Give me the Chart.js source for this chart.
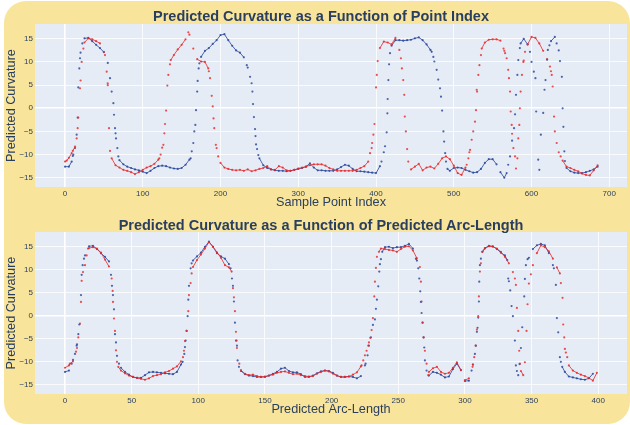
<!DOCTYPE html>
<html>
<head>
<meta charset="utf-8">
<title>Predicted Curvature</title>
<script src="https://cdn.jsdelivr.net/npm/chart.js@4.4.1/dist/chart.umd.min.js"></script>
<style>
  body { margin: 0; background: #fff; }
  #wrap { position: relative; width: 630px; height: 425px; overflow: hidden; }
  #paper { position: absolute; left: 4px; top: 1px; width: 626px; height: 423px; background: #f8e59b; border-radius: 22px; }
  canvas { position: absolute; left: 0; }
  #topChart { top: 0; }
  #bottomChart { top: 212px; }
  .title { position: absolute; left: 0; width: 642px; text-align: center; color: #2a3f5f;
           font: bold 14.5px "Liberation Sans", Arial, sans-serif; white-space: nowrap; }
</style>
</head>
<body>
<div id="wrap">
  <div id="paper"></div>
  <canvas id="topChart" width="630" height="212"></canvas>
  <canvas id="bottomChart" width="630" height="213"></canvas>
  <div class="title" style="top:8px">Predicted Curvature as a Function of Point Index</div>
  <div class="title" style="top:217px">Predicted Curvature as a Function of Predicted Arc-Length</div>
</div>
<script>
// tick labels
const indexTicks = [0, 100, 200, 300, 400, 500, 600, 700];
const arcTicks = [0, 50, 100, 150, 200, 250, 300, 350, 400];
const curvatureTicks = [-15, -10, -5, 0, 5, 10, 15];

// top plot: one value every 5 sample points (0..685)
const indexStep = 5;
const blueByIndex = [
  -12.6, -12.6, -10.3, -5.7, 12, 15.1, 15.2, 14.5, 13.7, 13,
  12.1, 9.8, 3.6, -5.4, -11.2, -12.1, -12.6, -12.9, -13.2, -13.4,
  -13.7, -14, -13.5, -12.9, -12.5, -12.4, -12.5, -12.8, -13, -13.1,
  -12.9, -12.2, -11.1, -7.5, 3.6, 11.1, 12.4, 13, 13.9, 14.7,
  15.8, 16, 14.7, 13.5, 12.5, 12, 11, 8.8, 5.4, -6,
  -10.8, -12.3, -12.9, -13.2, -13.4, -13.5, -13.5, -13.6, -13.5, -13.3,
  -13.1, -12.9, -12.6, -11.9, -12.8, -13.4, -13.4, -13.5, -13.5, -13.5,
  -13.2, -12.7, -12.2, -12.4, -13.1, -13.6, -13.6, -13.7, -13.8, -13.9,
  -14, -12.5, -9.5, 2, 13.5, 14.7, 14.7, 14.6, 14.7, 14.8,
  15.1, 15.3, 14.7, 13.8, 12.6, 10.1, 6.2, -0.5, -11.5, -13.5,
  -12.9, -12.8, -12.9, -13.3, -13.6, -13.9, -13.8, -13.1, -11.8, -11,
  -11, -12.1, -13.8, -15, -12.2, -7, 2.9, 13, 15, 13.8,
  10, 6.5, -13.3, -1, 10.5, 14.5, 15.4, 12.5, 0, -12.9,
  -13.6, -13.9, -14, -14, -13.8, -13.5, -13.2, -12.6
];
const redByIndex = [
  -11.5, -10.7, -9.2, -6.5, 6, 14.2, 15.1, 14.9, 14.5, 14,
  12.2, 5, -10.8, -12.3, -12.8, -13.3, -13.5, -13.8, -14.2, -13.8,
  -13.3, -12.8, -12.5, -12, -11.1, -8.5, -0.5, 9.5, 11.5, 12.7,
  13.7, 14.9, 15.9, 12.9, 10.6, 10.1, 10, 8, 0.4, -8.6,
  -11.8, -12.8, -13.1, -13.3, -13.4, -13.3, -13.5, -13.2, -13.6, -13.4,
  -13.1, -12.9, -12.5, -13.2, -13.3, -12.5, -12.8, -13.4, -13.5, -13.3,
  -13, -12.8, -12.6, -12.3, -12.1, -12.1, -12.1, -12.4, -12.9, -13.2,
  -13.5, -13.5, -13.5, -13.5, -13.5, -13.3, -12.9, -12.5, -11.5, -7.5,
  4.5, 13, 14.4, 14.2, 13.8, 15.2, 12.6, 6.1, -8.8, -13.2,
  -12.6, -12, -13.4, -12.8, -12.6, -13, -12, -10.8, -10.4, -11,
  -12.4, -14, -14.4, -12.8, -9.5, -5, 3.6, 11.5, 14.2, 14.8,
  14.9, 14.9, 14.6, 12.4, 8.3, -5.5, -13, 0, 10.3, 13.8,
  15.4, 15.2, 14, 12.4, 10.6, 8, -5, -9.5, -11.3, -12.6,
  -12.9, -13.3, -13.6, -14.1, -14.4, -14.5, -13.4, -12.3
];
// extra readings [index, curvature] where the curves are steep
const blueIndexExtra = [
  [8.6, -11.5], [10.7, -10], [12.9, -8.6], [16.3, -2], [17.1, 4.5], [18.4, 8.6], [19.3, 10.8], [22.3, 14],
  [57.9, 6.5], [62.2, 1.1], [63, -1.4], [64.3, -4.3], [65.6, -6.5], [67.3, -8.6], [68.6, -10.4],
  [161.6, -10.8], [163, -9.3], [166.3, -5], [167.6, -3.6], [168.5, -0.4], [170.6, 5.9], [171.9, 8.6], [172.8, 9.7],
  [233.8, 9.3], [238, 6.8], [241, 3.6], [241.8, 0.9], [243, -1.9], [244.4, -4.5], [245.7, -7.8], [247, -8.8], [248.6, -10.1],
  [407, -11.5], [411.6, -8.2], [413.7, -5.2], [414.6, -1.1], [415.9, 6.1], [416.8, 9.5], [418, 11.9],
  [471.6, 12.2], [473.7, 11.1], [478, 8.3], [482.3, 4.3], [483.6, 2.5], [486.7, -5], [487.6, -7.2], [488.9, -9.7], [491.9, -13.1],
  [568, -14], [572.4, -10.4], [577.5, -4.3], [578.8, -1.3], [581.8, 7.2], [583, 10.4], [586, 14],
  [598, 12.2], [603, 7.9], [606, -0.7], [608.6, -11.1], [612, -5.7], [616.7, 4], [618, 6.1], [621, 12.6], [623, 13.6],
  [632.3, 14], [636.6, 10.2], [639, 6.8], [641, -4], [642.2, -9.3], [643, -11.4]
];
const redIndexExtra = [
  [2.2, -11.3], [8.6, -9.7], [12.9, -8.3], [16.3, -4.3], [17.1, -2], [19.3, 4.3], [21.4, 10], [23.6, 12.9],
  [51.4, 11.5], [53.6, 7.9], [54.9, 5.4], [56.6, -4.3], [57.9, -9.2],
  [121.3, -10.8], [123, -10], [126.5, -7.9], [127.8, -5.4], [128.6, -3.4], [131.6, 4.9], [132.9, 7.2], [136, 10.4],
  [158.6, 16.4],
  [184.3, 8.6], [186.5, 6.5], [188.7, 2.7], [191, -2.2], [192, -4.3], [194, -7.9], [197, -10.4],
  [392.3, -9.7], [394.4, -8.6], [396.6, -5.7], [398, -3.4], [401, 7.2], [402.2, 10.2],
  [432, 10.8], [433.3, 8.6], [436.3, 2.9], [437, -1.8], [438.4, -5], [441.5, -11.5],
  [516.6, -12.2], [518.8, -10.8], [521, -9], [523, -6.8], [527.3, -2.9], [528.6, -0.4], [529.5, 4], [531.6, 7.2], [533, 9.3], [536, 12.9],
  [564, 12.9], [566, 11.9], [568, 10.8], [571, 6.5], [572.4, 3.6], [573.2, -0.7], [574.5, -3.6], [576.7, -8.6], [578.8, -10.4],
  [581.8, -10.8], [583, -6.5], [584.3, -3.6], [586, 3.6], [587.7, 7.2], [589.5, 10], [591.6, 12.2],
  [623.7, 9], [626, 7.2], [627.2, 4.7], [629, -1.8], [632.4, -7.5], [637.5, -10.4]
];

// bottom plot: one value every 3 units of arc-length
const arcStep = 3;
const blueByArc = [
  -12.2, -11.9, -9.6, -6.2, 4.5, 13.1, 15.1, 15.2, 14.5, 13.6,
  12.8, 11.8, 4.5, -8.7, -11.3, -12.2, -12.8, -13.3, -13.5, -13.5,
  -12.9, -12.3, -12.2, -12.3, -12.4, -12.5, -12.6, -12.7, -12.2, -10.6,
  -6.8, 6.5, 12, 12.9, 13.7, 15, 16.1, 15, 13.6, 12.9,
  12.4, 11.2, 6.5, -6.5, -12, -12.7, -13, -13.1, -13.3, -13.3,
  -13.3, -13, -12.6, -12.2, -11.5, -11.3, -12, -12.3, -12.3, -12.7,
  -13.3, -13.3, -13, -12.5, -12.1, -11.9, -12, -12.4, -13, -13.3,
  -13.3, -13.2, -13.3, -13.6, -13.1, -10.8, -6.5, -2, 3.5, 12.3,
  14.9, 15, 14.7, 14.9, 14.9, 15.2, 15.6, 14.6, 12, 3,
  -9.7, -13, -12.2, -12.4, -12.8, -13.4, -13.2, -11.6, -10.4, -11.8,
  -14.2, -14.1, -10.6, -3.5, 12.4, 14.7, 15.2, 15.1, 14.5, 13.7,
  13.1, 7.5, -0.1, -12, -7, 8, 12.6, 14.5, 15.3, 15.6,
  15.3, 13.6, 11, -0.5, -10, -12.2, -13.2, -13.4, -13.6, -13.8,
  -13.9, -13.6, -12.6
];
const redByArc = [
  -11.3, -10.8, -9.9, -7, 3, 11, 14.7, 14.9, 14.6, 13.7,
  12.2, 10.7, 3, -10, -11.9, -12.5, -13, -13.3, -13.5, -13.7,
  -13.9, -13.6, -13.1, -12.9, -12.7, -12.3, -12, -11.5, -11, -9.9,
  -5.5, 4.5, 10.6, 12.1, 13.3, 14.6, 16, 15, 13.8, 12.6,
  11, 10.5, 6, -7, -11.8, -12.6, -12.9, -12.8, -13.1, -13.3,
  -13.2, -13, -12.8, -12.4, -12.2, -12.1, -12.4, -12.7, -12.6, -12.9,
  -13.1, -13.2, -13.1, -12.6, -12.2, -11.9, -12.1, -12.6, -13, -13.3,
  -13.3, -13.2, -12.8, -12.3, -11, -8.6, -5.8, -0.5, 12.8, 14.6,
  14.5, 14.3, 14.2, 13.9, 14.5, 15, 15.1, 14.2, 12.5, 7.4,
  -7.6, -12.2, -11.4, -11.1, -12.2, -12.6, -12.4, -11.3, -10.1, -11.8,
  -14, -13.6, -10.6, -3, 11.4, 14.6, 15.1, 15, 14.6, 13.9,
  12.8, 11.4, 9.5, 1.7, -12, -10.1, 7, 11, 13.6, 15.3,
  14.9, 14, 12.4, 10.5, 7.1, -7.2, -10.8, -11.9, -12.4, -12.8,
  -13.1, -13.5, -14.1, -12.4
];
// extra readings [arc-length, curvature] where the curves are steep
const blueArcExtra = [
  [5, -10.4], [7.5, -8.3], [8.75, -6.5], [10, -4], [10.75, -1.9], [12.5, 8.9], [13.25, 11], [14.25, 12.4],
  [34.5, 8.9], [35.25, 6.5], [36.75, 1.4], [37.5, -4], [38.25, -5.8], [40.5, -10.4],
  [88.25, -10], [89.5, -8.3], [90.5, -5.4], [91.25, -3.3], [92, -0.1], [92.5, 3.5], [94.25, 10.3], [95, 11.4],
  [124.25, 10.3], [125.25, 8.1], [126.75, 3.1], [127.5, -1.5], [128.25, -5.4], [129.5, -9.7], [130.5, -11.1],
  [225.5, -10.4], [227, -8.6], [229.5, -4.7], [232.5, -0.8], [233.25, 1.5], [235, 6.4], [235.75, 9.6], [236.25, 11.2], [238, 13.9],
  [263.25, 12.4], [265, 10.3], [265.75, 8.1], [266.5, 5.3], [267.5, 0.6], [268.25, -1.5], [269, -4.7], [269.5, -6.9], [271.25, -11.9],
  [305, -11.9], [307.5, -8.3], [308.25, -6.5], [309.5, -2.6], [310, -0.4], [310.5, 3.1], [310.75, 7.4], [311.25, 11], [313, 13.9],
  [331.75, 12.1], [332.5, 8.1], [334, 5.5], [335, 2.1], [337.5, -5.4], [338.25, -10.8], [340, -12.9], [341, -10.5],
  [343, -2.5], [344.5, 4.2], [345.75, 11], [347, 12.3],
  [366.75, 10.3], [368.25, 6.7], [370, -3.6], [371.25, -9], [373, -11.1]
];
const redArcExtra = [
  [3.75, -10.4], [8.25, -7.8], [10, -4.7], [11.25, -1.7], [12.5, 7.6], [13.5, 9.5], [16.25, 13.1], [17.25, 14.6],
  [35, 8.1], [35.75, 5.4], [36.75, -0.6], [37.5, -3.3], [38.25, -7.5], [40, -11.1],
  [88.5, -9], [89.25, -7.6], [91.25, -3.3], [92.5, 1], [94.25, 7.1], [95, 9.2],
  [125, 9.6], [126.75, 4], [127.5, 1], [128.25, -3.5], [128.75, -5.4], [130.75, -10.4],
  [222.5, -10.8], [223.75, -9.7], [226.25, -7.6], [227.5, -6.5], [229, -4.8], [230, -3.1], [232, 4.2], [232.5, 7.4], [233.25, 10.4], [235.5, 13.9],
  [266.25, 10.6], [267.5, 3.1], [268.25, -1.5], [269, -4.7], [271.25, -10.4], [272.5, -12.9],
  [305.75, -11.1], [307, -9], [308, -6.5], [310, -0.1], [310.5, 4.2], [311.25, 9.6], [313.25, 13.9],
  [337.5, 8.1], [338.25, 6.7], [340, -3.3], [340.75, -7.6], [341.25, -10.4], [343.75, -12.9], [346.25, -3.3], [347, 2.5], [349.5, 9],
  [371.25, 9.2], [373.25, 3.9], [373.75, -1.9], [374.5, -4.7], [375.75, -8], [376.75, -9]
];

const FONT = '"Liberation Sans", Arial, sans-serif';
const INK = '#2a3f5f';
const RED = 'rgba(232, 38, 38, 0.8)';
const BLUE = 'rgba(36, 66, 152, 0.8)';

function toPoints(values, step, extra) {
  const pts = values.map((v, i) => ({ x: i * step, y: v }));
  extra.forEach(p => pts.push({ x: p[0], y: p[1] }));
  return pts.sort((a, b) => a.x - b.x);
}

const plotBg = {
  id: 'plotBg',
  beforeDraw(chart) {
    const { ctx, chartArea: a } = chart;
    ctx.save();
    ctx.fillStyle = '#e5ecf6';
    ctx.fillRect(a.left, a.top, a.right - a.left, a.bottom - a.top);
    ctx.restore();
  }
};

function gridWidth(c) {
  return c.tick && c.tick.value === 0 ? 1.6 : 0.8;
}

// the dense samples of the original read as a trace where the curve is flat,
// and as loose dots where it is steep
function series(points, color) {
  return {
    data: points,
    showLine: true,
    borderColor: color,
    borderWidth: 1,
    backgroundColor: color,
    pointRadius: 1.1,
    pointBorderWidth: 0,
    pointHoverRadius: 0,
    segment: {
      borderColor: c => {
        const dy = Math.abs(c.p1.y - c.p0.y);
        const dx = Math.abs(c.p1.x - c.p0.x);
        return dy > 8 || dy > 2 * dx ? 'rgba(0,0,0,0)' : color;
      }
    }
  };
}

function makeChart(id, opt) {
  const ctx = document.getElementById(id).getContext('2d');
  return new Chart(ctx, {
    type: 'scatter',
    data: {
      datasets: [series(opt.red, RED), series(opt.blue, BLUE)]
    },
    options: {
      responsive: false,
      animation: false,
      events: [],
      layout: { padding: { top: opt.top, right: 3, left: 0, bottom: 0 } },
      plugins: { legend: { display: false }, tooltip: { enabled: false } },
      scales: {
        x: {
          type: 'linear',
          min: opt.xMin,
          max: opt.xMax,
          afterBuildTicks: s => { s.ticks = opt.xTicks.map(v => ({ value: v })); },
          afterFit: s => { s.height = opt.xHeight; },
          grid: { color: '#ffffff', lineWidth: gridWidth, drawTicks: false },
          border: { display: false },
          ticks: { color: INK, font: { family: FONT, size: 8 }, padding: 2, maxRotation: 0, autoSkip: false },
          title: { display: true, text: opt.xTitle, color: INK, font: { family: FONT, size: 12.7 },
                   padding: { top: 0, bottom: opt.xTitlePad } }
        },
        y: {
          min: -17,
          max: 18.2,
          afterBuildTicks: s => { s.ticks = curvatureTicks.map(v => ({ value: v })); },
          afterFit: s => { s.width = 35; },
          grid: { color: '#ffffff', lineWidth: gridWidth, drawTicks: false },
          border: { display: false },
          ticks: {
            color: INK, font: { family: FONT, size: 8 }, padding: 2,
            callback: v => (v < 0 ? '\u2212' + Math.abs(v) : String(v))
          },
          title: { display: true, text: 'Predicted Curvature', color: INK, font: { family: FONT, size: 12.7 },
                   padding: { top: 4, bottom: 0 } }
        }
      }
    },
    plugins: [plotBg]
  });
}

makeChart('topChart', {
  red: toPoints(redByIndex, indexStep, redIndexExtra),
  blue: toPoints(blueByIndex, indexStep, blueIndexExtra),
  top: 24, xMin: -38.6, xMax: 722.8, xTicks: indexTicks, xHeight: 25, xTitlePad: 2,
  xTitle: 'Sample Point Index'
});

makeChart('bottomChart', {
  red: toPoints(redByArc, arcStep, redArcExtra),
  blue: toPoints(blueByArc, arcStep, blueArcExtra),
  top: 20, xMin: -22.5, xMax: 421.6, xTicks: arcTicks, xHeight: 31, xTitlePad: 8,
  xTitle: 'Predicted Arc-Length'
});
</script>
</body>
</html>
